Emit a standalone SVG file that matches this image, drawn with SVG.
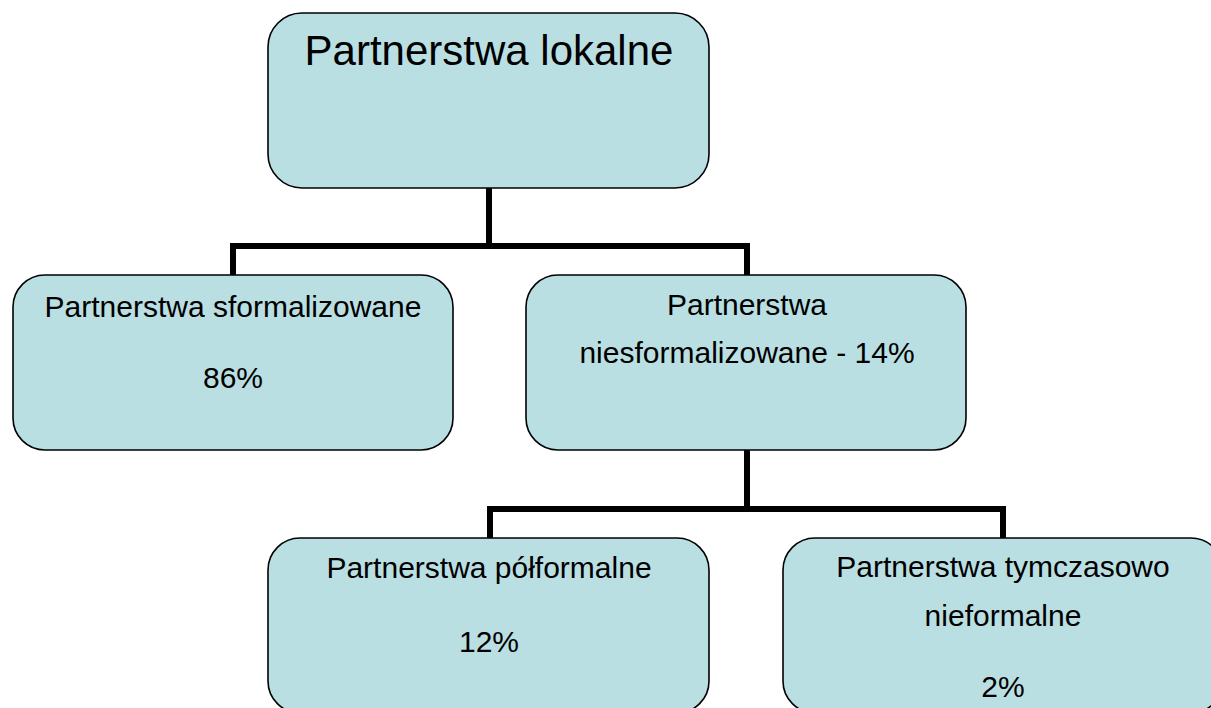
<svg xmlns="http://www.w3.org/2000/svg" width="1211" height="708" viewBox="0 0 1211 708">
<style>
.box{fill:#B9DFE3;stroke:#000;stroke-width:1.6}
.t{font-family:"Liberation Sans",Arial,sans-serif;font-size:30px;fill:#000;text-anchor:middle}
.tl{font-size:42px}
.c{fill:none;stroke:#000;stroke-width:6;stroke-linejoin:miter}
</style>
<rect width="1211" height="708" fill="#fff"/>
<g id="connectors">
<path class="c" d="M489 188 V246 M233 275 V246 H747 V275"/>
<path class="c" d="M747 450 V509 M490 538 V509 H1003 V538"/>
</g>
<g id="n-root">
<rect class="box" x="268" y="13" width="441" height="175" rx="34"/>
<text class="t tl" x="489" y="65">Partnerstwa lokalne</text>
</g>
<g id="n-sform">
<rect class="box" x="13" y="275" width="440" height="175" rx="32"/>
<text class="t" x="233" y="317">Partnerstwa sformalizowane</text>
<text class="t" x="233" y="388">86%</text>
</g>
<g id="n-niesform">
<rect class="box" x="526" y="275" width="440" height="175" rx="32"/>
<text class="t" x="747" y="315">Partnerstwa</text>
<text class="t" x="747" y="363">niesformalizowane - 14%</text>
</g>
<g id="n-polform">
<rect class="box" x="268" y="538" width="441" height="175" rx="32"/>
<text class="t" x="489" y="578">Partnerstwa półformalne</text>
<text class="t" x="489" y="652">12%</text>
</g>
<g id="n-tymcz">
<rect class="box" x="783" y="538" width="440" height="175" rx="32"/>
<text class="t" x="1003" y="577">Partnerstwa tymczasowo</text>
<text class="t" x="1003" y="626">nieformalne</text>
<text class="t" x="1003" y="697">2%</text>
</g>
</svg>
